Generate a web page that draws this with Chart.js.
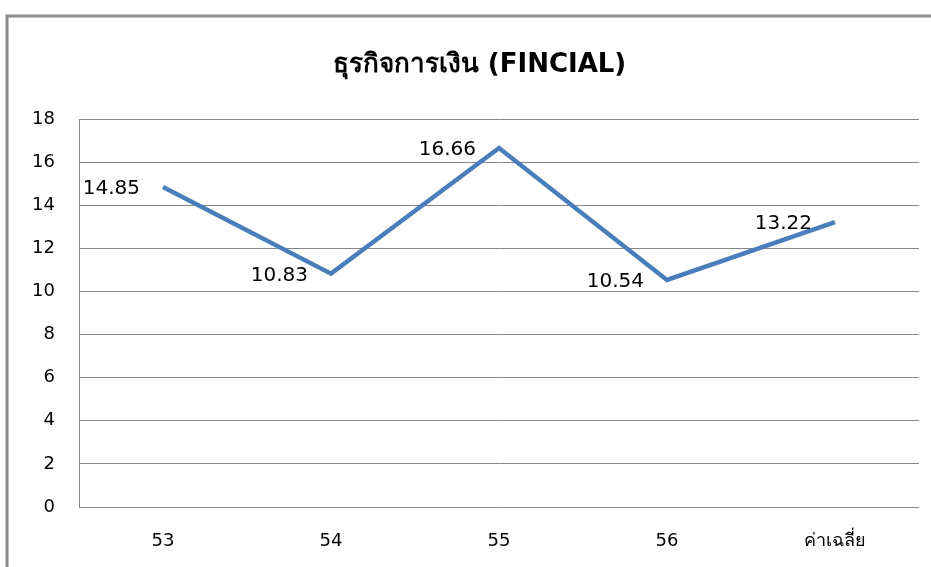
<!DOCTYPE html>
<html>
<head>
<meta charset="utf-8">
<script src="https://cdn.jsdelivr.net/npm/chart.js@4.4.1/dist/chart.umd.min.js"></script>
<style>
html,body{margin:0;padding:0;background:#fff;}
#wrap{width:931px;height:567px;position:relative;}
</style>
</head>
<body>
<div id="wrap"><canvas id="c" width="931" height="567"></canvas></div>
<script>
const categories = ['53', '54', '55', '56', 'ค่าเฉลี่ย'];
const values = [14.85, 10.83, 16.66, 10.54, 13.22];
const labelsText = ['14.85', '10.83', '16.66', '10.54', '13.22'];
const yTicks = [0, 2, 4, 6, 8, 10, 12, 14, 16, 18];
const titleText = 'ธุรกิจการเงิน (FINCIAL)';

const frame = {
  id: 'frame',
  afterLayout(chart) {
    if (chart.titleBlock) chart.titleBlock.left = 40;
  },
  beforeDraw(chart) {
    const ctx = chart.ctx;
    ctx.save();
    ctx.fillStyle = '#fff';
    ctx.fillRect(0, 0, chart.width, chart.height);
    ctx.strokeStyle = '#8a8a8a';
    ctx.lineWidth = 3;
    ctx.beginPath();
    ctx.moveTo(7, chart.height);
    ctx.lineTo(7, 16);
    ctx.lineTo(chart.width, 16);
    ctx.stroke();
    ctx.restore();
  }
};

const dataLabels = {
  id: 'dataLabels',
  afterDatasetsDraw(chart) {
    const ctx = chart.ctx;
    const meta = chart.getDatasetMeta(0);
    ctx.save();
    ctx.font = '20px "DejaVu Sans", sans-serif';
    ctx.fillStyle = '#000';
    ctx.textAlign = 'right';
    ctx.textBaseline = 'middle';
    meta.data.forEach((pt, i) => {
      ctx.fillText(labelsText[i], pt.x - 23, pt.y + 2);
    });
    ctx.restore();
  }
};

new Chart(document.getElementById('c'), {
  type: 'line',
  data: {
    labels: categories,
    datasets: [{
      data: values,
      borderColor: '#4a7ebb',
      borderWidth: 4.5,
      pointRadius: 0,
      tension: 0,
      fill: false
    }]
  },
  options: {
    responsive: false,
    animation: false,
    devicePixelRatio: 1,
    layout: { padding: { left: 0, right: 12, top: 0, bottom: 0 } },
    plugins: {
      legend: { display: false },
      tooltip: { enabled: false },
      title: {
        display: true,
        text: titleText,
        color: '#000',
        font: { family: 'Tahoma, "DejaVu Sans", sans-serif', size: 26, weight: 'bold', lineHeight: 1.2 },
        padding: { top: 50, bottom: 38 }
      }
    },
    scales: {
      x: {
        offset: true,
        grid: { display: false, drawTicks: false },
        border: { display: false },
        ticks: {
          color: '#000',
          font: { family: '"DejaVu Sans", sans-serif', size: 18 },
          padding: 24,
          maxRotation: 0
        },
        afterFit(scale) { scale.height = 60; }
      },
      y: {
        min: 0,
        max: 18,
        afterBuildTicks(scale) { scale.ticks = yTicks.map(v => ({ value: v })); },
        grid: { color: '#868686', lineWidth: 1, drawTicks: false },
        border: { display: true, color: '#868686', width: 1 },
        ticks: {
          color: '#000',
          font: { family: '"DejaVu Sans", sans-serif', size: 18 },
          padding: 24
        },
        afterFit(scale) { scale.width = 79; }
      }
    }
  },
  plugins: [frame, dataLabels]
});
</script>
</body>
</html>
